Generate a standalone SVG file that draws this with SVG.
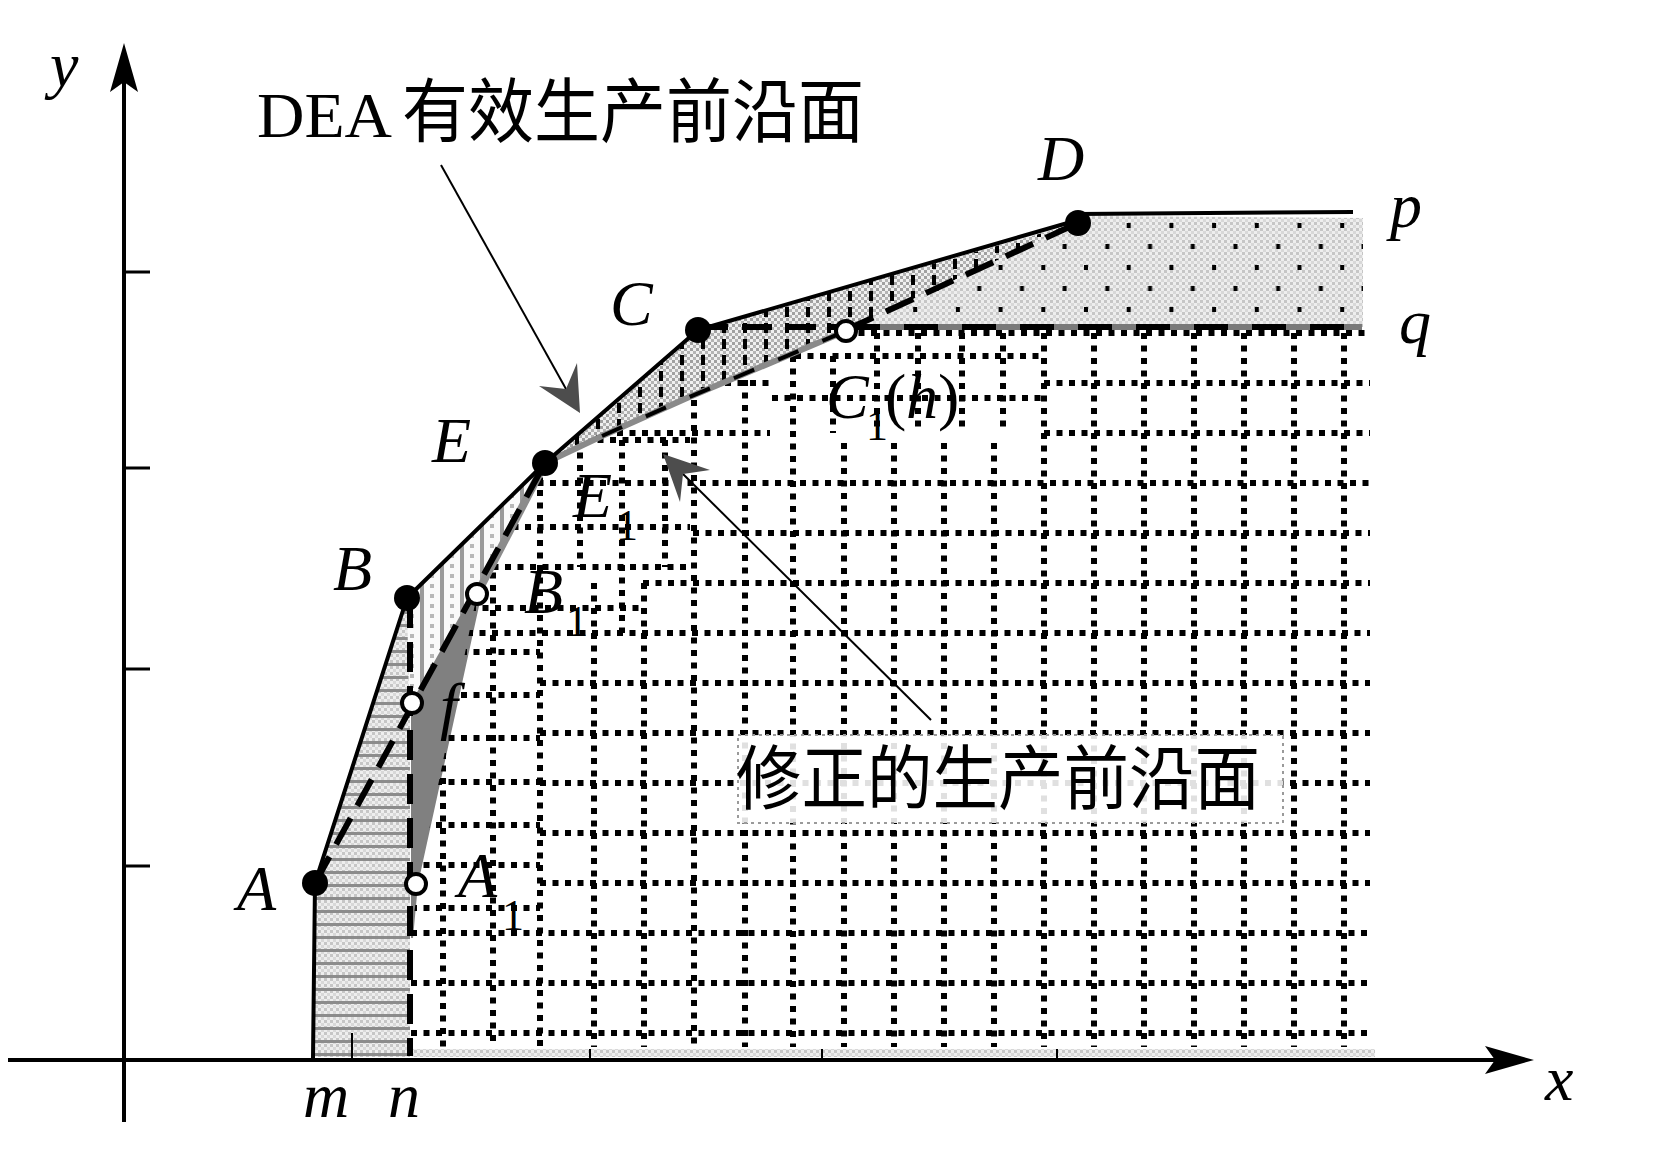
<svg xmlns="http://www.w3.org/2000/svg" width="1655" height="1153" viewBox="0 0 1655 1153">
<style>
.lbl{font-family:"Liberation Serif","Times New Roman",serif;font-style:italic;font-size:64px;fill:#000}
.sub{font-family:"Liberation Serif","Times New Roman",serif;font-size:44px;fill:#000}
.up{font-family:"Liberation Serif","Times New Roman",serif;font-size:64px;fill:#000}
.cjk{font-family:"Noto Sans CJK SC",sans-serif;font-size:70px;fill:#000}
.solid{fill:none;stroke:#000;stroke-width:4;stroke-linejoin:round}
.dash{fill:none;stroke:#000;stroke-width:6;stroke-dasharray:30 14}
.grid{fill:none;stroke:#000;stroke-width:6;stroke-dasharray:6 6.5}
.dot{fill:#000}
.open{fill:#fff;stroke:#000;stroke-width:4}
.thin{fill:none;stroke:#000;stroke-width:2}
.head{fill:#4d4d4d}
</style>
<defs>
<pattern id="chk" width="6" height="6" patternUnits="userSpaceOnUse">
<rect width="6" height="6" fill="#eeeeee"/>
<rect width="3" height="3" fill="#c6c6c6"/>
<rect x="3" y="3" width="3" height="3" fill="#d8d8d8"/>
</pattern>
<pattern id="chk2" width="6" height="6" patternUnits="userSpaceOnUse">
<rect width="6" height="6" fill="#f0f0f0"/>
<rect width="3" height="3" fill="#a0a0a0"/>
<rect x="3" y="3" width="3" height="3" fill="#b4b4b4"/>
</pattern>
<pattern id="pdots" x="1084" y="223" width="42.7" height="42" patternUnits="userSpaceOnUse">
<rect x="0" y="0" width="4" height="5" fill="#000"/>
<rect x="21.35" y="21" width="4" height="5" fill="#000"/>
</pattern>
<pattern id="vdash" x="0" y="0" width="21" height="16" patternUnits="userSpaceOnUse">
<rect x="8" y="3" width="4" height="10" fill="#000"/>
</pattern>
<pattern id="hstripe" width="12" height="13" patternUnits="userSpaceOnUse">
<rect y="0" width="12" height="3" fill="#8c8c8c"/>
</pattern>
<pattern id="vstripe" width="20" height="20" patternUnits="userSpaceOnUse">
<rect width="20" height="20" fill="#fafafa"/>
<rect x="0" width="4" height="20" fill="#9a9a9a"/>
<rect x="10" y="4" width="4" height="4" fill="#b8b8b8"/>
<rect x="10" y="14" width="4" height="4" fill="#b8b8b8"/>
</pattern>
<clipPath id="gclip">
<polygon points="409,1050 411,938 418,884 477,594 545,463 602,436 687,398 846,329 1375,329 1375,1050"/>
</clipPath>
</defs>
<rect width="1655" height="1153" fill="#fff"/>

<g id="regions">
<polygon points="312,1057 315,883 407,598 410,598 410,1057" fill="url(#chk)"/>
<polygon points="312,1057 315,883 407,598 410,598 410,1057" fill="url(#hstripe)"/>
<polygon points="407,598 545,463 412,703 409,703" fill="url(#vstripe)"/>
<polygon points="411,703 474,591 481,597 418,884 413,938 411,938" fill="#808080"/>
<polygon points="545,463 698,330 846,330 687,398 602,436" fill="url(#chk2)"/>
<polygon points="698,330 1078,223 846,330" fill="url(#chk2)"/>
<polygon points="545,463 698,330 846,330 687,398 602,436" fill="url(#vdash)"/>
<polygon points="698,330 1078,223 846,330" fill="url(#vdash)"/>
<polygon points="1078,223 1085,216 1363,218 1363,327 846,330" fill="url(#chk)"/>
<polygon points="1078,223 1085,216 1363,218 1363,327 846,330" fill="url(#pdots)"/>
<rect x="412" y="1049" width="963" height="8" fill="url(#chk)"/>
</g>

<g id="grid" clip-path="url(#gclip)">
<path class="grid" d="M846 333H1370 M795 356H1041 M700 383H770 M1044 383H1370 M772 398H1041 M617 433H770 M1044 433H1370 M560 440H690 M500 483H1370 M500 527H690 M693 533H1370 M480 567H690 M643 583H1370 M470 608H640 M467 633H1370 M411 652H540 M411 695H540 M411 738H540 M411 782H540 M411 825H540 M411 865H540 M411 908H540 M540 683H1370 M540 733H1370 M540 783H1370 M540 833H1370 M540 883H1370 M411 933H1370 M411 983H1370 M411 1033H1370"/>
<path class="grid" d="M443 753V1047 M493 560V1047 M540 440V1047 M580 440V567 M594 583V1047 M622 440V633 M644 583V1047 M665 440V567 M694 400V1047 M745 380V1047 M793 356V1047 M833 356V433 M844 443V1047 M877 333V433 M894 443V1047 M918 333V433 M944 443V1047 M962 333V433 M994 443V1047 M1003 333V433 M1044 333V1047 M1094 333V1047 M1144 333V1047 M1194 333V1047 M1244 333V1047 M1294 333V1047 M1344 333V1047"/>
</g>

<g id="connectors">
<polyline points="477,594 545,463" fill="none" stroke="#8c8c8c" stroke-width="8"/>
<polyline points="545,463 602,436 687,398 846,331" fill="none" stroke="#8a8a8a" stroke-width="6"/>
<line x1="846" y1="327" x2="1362" y2="327" stroke="#7a7a7a" stroke-width="6"/>
<line x1="846" y1="327" x2="1362" y2="327" stroke="#000" stroke-width="6" stroke-dasharray="34 24"/>
<polyline points="602,436 687,398 846,331" fill="none" stroke="#000" stroke-width="4" stroke-dasharray="22 26"/>
<path d="M124 1122V82 M8 1060H1495" fill="none" stroke="#000" stroke-width="4"/>
<polygon points="124,43 138,92 124,82 110,92" fill="#000"/>
<polygon points="1534,1060 1485,1074 1495,1060 1485,1046" fill="#000"/>
<path d="M124 272H150 M124 468H150 M124 669H150 M124 866H150" stroke="#000" stroke-width="3"/>
<path d="M352 1033V1060 M590 1049V1060 M822 1049V1060 M1057 1049V1060" stroke="#000" stroke-width="2"/>
<polyline class="solid" points="313,1058 315,883 407,598 545,463 698,330 1078,220"/>
<line class="solid" x1="1078" y1="214" x2="1353" y2="212"/>
<line class="dash" x1="315" y1="883" x2="545" y2="463"/>
<line class="dash" x1="410" y1="598" x2="410" y2="1056"/>
<line class="dash" x1="698" y1="327" x2="846" y2="327"/>
<line class="dash" x1="846" y1="330" x2="1078" y2="223"/>
<line class="thin" x1="441" y1="165" x2="566" y2="389"/>
<polygon class="head" points="580,413 539,386 566,389 577,363"/>
<line class="thin" x1="931" y1="720" x2="683" y2="474"/>
<polygon class="head" points="663,454 710,470 683,474 680,502"/>
</g>

<g id="axis-labels">
<text class="lbl" x="50" y="86">y</text>
<text class="lbl" x="1545" y="1100">x</text>
<text class="lbl" x="303" y="1117">m</text>
<text class="lbl" x="388" y="1117">n</text>
</g>

<g id="title-dea">
<text class="up" x="257" y="137" font-size="68" textLength="135" lengthAdjust="spacingAndGlyphs">DEA</text>
<text class="cjk" x="402" y="137" textLength="462" lengthAdjust="spacingAndGlyphs">有效生产前沿面</text>
</g>

<g id="title-mod">
<rect x="738" y="735" width="545" height="88" fill="#fff" fill-opacity="0.88" stroke="#9a9a9a" stroke-width="2" stroke-dasharray="3 4"/>
<text class="cjk" x="736" y="804" textLength="524" lengthAdjust="spacingAndGlyphs">修正的生产前沿面</text>
</g>

<g id="node-A"><circle class="dot" cx="315" cy="883" r="13"/><text class="lbl" x="237" y="910">A</text></g>
<g id="node-B"><circle class="dot" cx="407" cy="598" r="13"/><text class="lbl" x="333" y="590">B</text></g>
<g id="node-E"><circle class="dot" cx="545" cy="463" r="13"/><text class="lbl" x="432" y="462">E</text></g>
<g id="node-C"><circle class="dot" cx="698" cy="330" r="13"/><text class="lbl" x="610" y="325">C</text></g>
<g id="node-D"><circle class="dot" cx="1078" cy="223" r="13"/><text class="lbl" x="1038" y="180">D</text></g>
<g id="node-p"><text class="lbl" x="1390" y="227">p</text></g>
<g id="node-q"><text class="lbl" x="1399" y="343">q</text></g>
<g id="node-A1"><circle class="open" cx="416" cy="884" r="10"/><text class="lbl" x="458" y="897">A</text><text class="sub" x="502" y="930">1</text></g>
<g id="node-f"><circle class="open" cx="412" cy="703" r="10"/><text class="lbl" x="440" y="727">f</text></g>
<g id="node-B1"><circle class="open" cx="477" cy="594" r="10"/><text class="lbl" x="524" y="613">B</text><text class="sub" x="566" y="636">1</text></g>
<g id="node-E1"><text class="lbl" x="573" y="517">E</text><text class="sub" x="616" y="540">1</text></g>
<g id="node-C1"><circle class="open" cx="846" cy="331" r="10"/><text class="lbl" x="826" y="418">C</text><text class="sub" x="866" y="440">1</text><text class="up" x="885" y="418">(</text><text class="lbl" x="906" y="418">h</text><text class="up" x="938" y="418">)</text></g>
</svg>
